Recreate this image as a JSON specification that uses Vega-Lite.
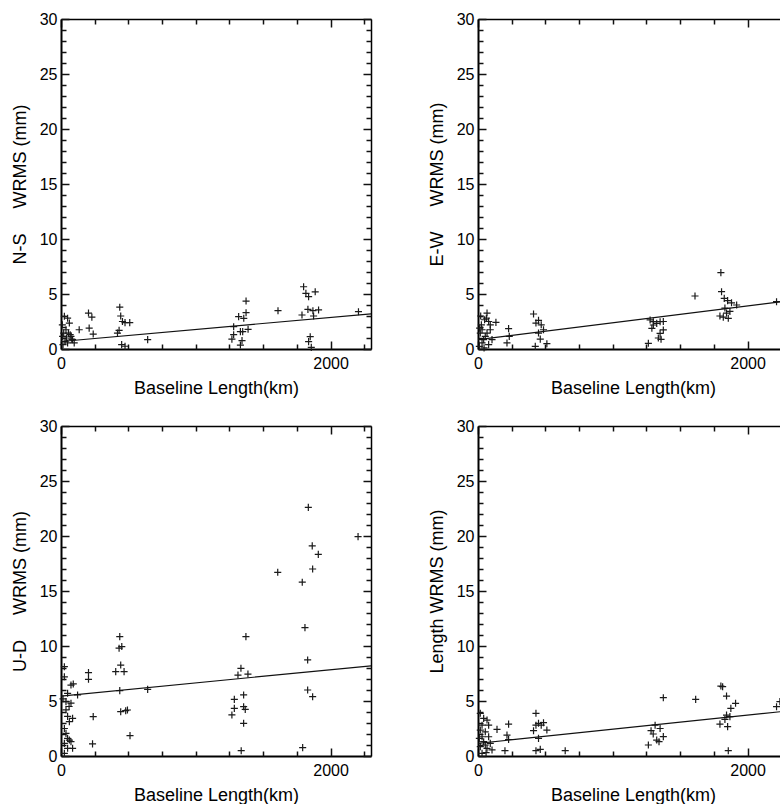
{
"$schema":"https://vega.github.io/schema/vega-lite/v6.json",
"background":"white",
"padding":{"left":11,"top":11,"right":0,"bottom":0},
"config":{"view":{"stroke":null},"axis":{"grid":false,"domainColor":"black","tickColor":"#111","labelColor":"black","titleColor":"black","labelFont":"Liberation Sans","titleFont":"Liberation Sans","labelFontSize":16,"titleFontSize":18,"titleFontWeight":"normal","tickWidth":1.5,"format":"d"}},
"datasets":{
"pts":[
{"p":"NS","x":25,"y":2.97},{"p":"NS","x":49,"y":2.8},{"p":"NS","x":37,"y":1.75},{"p":"NS","x":20,"y":1.45},{"p":"NS","x":62,"y":2.36},{"p":"NS","x":74,"y":1.15},{"p":"NS","x":86,"y":0.85},{"p":"NS","x":49,"y":0.55},{"p":"NS","x":98,"y":0.55},{"p":"NS","x":12,"y":1.15},{"p":"NS","x":30,"y":0.7},{"p":"NS","x":55,"y":1.45},{"p":"NS","x":10,"y":2.2},{"p":"NS","x":40,"y":1.0},{"p":"NS","x":68,"y":1.3},{"p":"NS","x":15,"y":0.4},{"p":"NS","x":80,"y":0.9},
{"p":"NS","x":135,"y":1.75},{"p":"NS","x":204,"y":3.27},{"p":"NS","x":229,"y":2.9},{"p":"NS","x":209,"y":1.9},{"p":"NS","x":239,"y":1.36},
{"p":"NS","x":436,"y":3.8},{"p":"NS","x":443,"y":3.0},{"p":"NS","x":456,"y":2.5},{"p":"NS","x":475,"y":2.4},{"p":"NS","x":510,"y":2.4},{"p":"NS","x":419,"y":1.45},{"p":"NS","x":431,"y":1.7},{"p":"NS","x":450,"y":0.4},{"p":"NS","x":475,"y":0.25},
{"p":"NS","x":643,"y":0.85},
{"p":"NS","x":1268,"y":0.9},{"p":"NS","x":1281,"y":1.3},{"p":"NS","x":1281,"y":2.03},{"p":"NS","x":1318,"y":2.94},{"p":"NS","x":1356,"y":2.79},{"p":"NS","x":1373,"y":4.36},{"p":"NS","x":1373,"y":3.3},{"p":"NS","x":1331,"y":1.58},{"p":"NS","x":1348,"y":1.58},{"p":"NS","x":1388,"y":1.79},{"p":"NS","x":1343,"y":0.76},{"p":"NS","x":1331,"y":0.36},
{"p":"NS","x":1610,"y":3.48},
{"p":"NS","x":1800,"y":5.66},{"p":"NS","x":1817,"y":5.06},{"p":"NS","x":1837,"y":4.76},{"p":"NS","x":1886,"y":5.2},{"p":"NS","x":1788,"y":3.09},{"p":"NS","x":1832,"y":3.6},{"p":"NS","x":1869,"y":3.48},{"p":"NS","x":1911,"y":3.55},{"p":"NS","x":1874,"y":3.0},{"p":"NS","x":1849,"y":1.12},{"p":"NS","x":1837,"y":0.67},{"p":"NS","x":1857,"y":0.15},
{"p":"NS","x":2207,"y":3.39},
{"p":"EW","x":17,"y":1.45},{"p":"EW","x":30,"y":1.75},{"p":"EW","x":49,"y":2.66},{"p":"EW","x":67,"y":3.27},{"p":"EW","x":79,"y":2.5},{"p":"EW","x":91,"y":2.2},{"p":"EW","x":54,"y":1.15},{"p":"EW","x":30,"y":0.55},{"p":"EW","x":79,"y":0.4},{"p":"EW","x":104,"y":0.85},{"p":"EW","x":42,"y":0.85},{"p":"EW","x":10,"y":0.24},{"p":"EW","x":67,"y":1.45},{"p":"EW","x":91,"y":1.75},{"p":"EW","x":25,"y":2.2},{"p":"EW","x":133,"y":2.42},{"p":"EW","x":62,"y":2.8},{"p":"EW","x":20,"y":3.0},{"p":"EW","x":45,"y":0.1},{"p":"EW","x":12,"y":1.9},
{"p":"EW","x":227,"y":1.85},{"p":"EW","x":215,"y":0.55},{"p":"EW","x":232,"y":1.15},
{"p":"EW","x":412,"y":3.18},{"p":"EW","x":449,"y":2.6},{"p":"EW","x":430,"y":2.36},{"p":"EW","x":469,"y":2.2},{"p":"EW","x":486,"y":1.75},{"p":"EW","x":449,"y":1.45},{"p":"EW","x":462,"y":0.9},{"p":"EW","x":425,"y":0.24},{"p":"EW","x":511,"y":0.48},
{"p":"EW","x":1264,"y":0.52},{"p":"EW","x":1277,"y":2.64},{"p":"EW","x":1301,"y":2.48},{"p":"EW","x":1301,"y":2.18},{"p":"EW","x":1326,"y":2.33},{"p":"EW","x":1351,"y":2.48},{"p":"EW","x":1375,"y":1.73},{"p":"EW","x":1351,"y":1.42},{"p":"EW","x":1358,"y":0.88},{"p":"EW","x":1290,"y":1.88},{"p":"EW","x":1375,"y":2.5},{"p":"EW","x":1338,"y":1.0},
{"p":"EW","x":1610,"y":4.82},
{"p":"EW","x":1802,"y":6.94},{"p":"EW","x":1807,"y":5.21},{"p":"EW","x":1827,"y":4.6},{"p":"EW","x":1852,"y":4.4},{"p":"EW","x":1881,"y":4.2},{"p":"EW","x":1919,"y":4.0},{"p":"EW","x":1795,"y":3.0},{"p":"EW","x":1820,"y":2.9},{"p":"EW","x":1857,"y":2.79},{"p":"EW","x":1844,"y":3.27},{"p":"EW","x":1832,"y":3.72},{"p":"EW","x":1869,"y":3.42},
{"p":"EW","x":2215,"y":4.3},
{"p":"UD","x":25,"y":8.12},{"p":"UD","x":25,"y":7.2},{"p":"UD","x":37,"y":4.94},{"p":"UD","x":49,"y":5.7},{"p":"UD","x":74,"y":6.45},{"p":"UD","x":91,"y":6.55},{"p":"UD","x":74,"y":4.8},{"p":"UD","x":37,"y":4.2},{"p":"UD","x":49,"y":3.6},{"p":"UD","x":86,"y":3.42},{"p":"UD","x":62,"y":3.12},{"p":"UD","x":37,"y":2.06},{"p":"UD","x":49,"y":1.6},{"p":"UD","x":74,"y":1.3},{"p":"UD","x":25,"y":1.15},{"p":"UD","x":49,"y":0.7},{"p":"UD","x":86,"y":0.7},{"p":"UD","x":25,"y":0.24},{"p":"UD","x":62,"y":1.45},{"p":"UD","x":25,"y":2.5},{"p":"UD","x":15,"y":5.2},{"p":"UD","x":60,"y":4.5},
{"p":"UD","x":123,"y":5.55},{"p":"UD","x":204,"y":7.58},{"p":"UD","x":204,"y":6.97},{"p":"UD","x":239,"y":3.58},{"p":"UD","x":234,"y":1.1},
{"p":"UD","x":406,"y":7.67},{"p":"UD","x":436,"y":10.85},{"p":"UD","x":431,"y":9.8},{"p":"UD","x":451,"y":9.95},{"p":"UD","x":443,"y":8.27},{"p":"UD","x":468,"y":7.67},{"p":"UD","x":436,"y":5.94},{"p":"UD","x":443,"y":4.03},{"p":"UD","x":480,"y":4.12},{"p":"UD","x":493,"y":4.18},{"p":"UD","x":512,"y":1.85},
{"p":"UD","x":643,"y":6.06},
{"p":"UD","x":1268,"y":3.73},{"p":"UD","x":1286,"y":5.15},{"p":"UD","x":1286,"y":4.33},{"p":"UD","x":1335,"y":7.97},{"p":"UD","x":1313,"y":7.36},{"p":"UD","x":1355,"y":5.55},{"p":"UD","x":1355,"y":4.48},{"p":"UD","x":1367,"y":4.24},{"p":"UD","x":1355,"y":2.97},{"p":"UD","x":1372,"y":10.85},{"p":"UD","x":1387,"y":7.45},{"p":"UD","x":1337,"y":0.48},
{"p":"UD","x":1608,"y":16.7},
{"p":"UD","x":1790,"y":15.8},{"p":"UD","x":1810,"y":11.67},{"p":"UD","x":1830,"y":8.73},{"p":"UD","x":1830,"y":6.0},{"p":"UD","x":1867,"y":5.39},{"p":"UD","x":1793,"y":0.76},{"p":"UD","x":1835,"y":22.6},{"p":"UD","x":1864,"y":19.1},{"p":"UD","x":1909,"y":18.33},{"p":"UD","x":1867,"y":17.0},
{"p":"UD","x":2204,"y":19.94},
{"p":"LN","x":17,"y":3.88},{"p":"LN","x":42,"y":3.42},{"p":"LN","x":67,"y":3.27},{"p":"LN","x":30,"y":2.8},{"p":"LN","x":79,"y":2.8},{"p":"LN","x":17,"y":2.36},{"p":"LN","x":54,"y":2.2},{"p":"LN","x":30,"y":1.75},{"p":"LN","x":79,"y":1.75},{"p":"LN","x":42,"y":1.3},{"p":"LN","x":91,"y":1.15},{"p":"LN","x":17,"y":0.85},{"p":"LN","x":67,"y":0.7},{"p":"LN","x":30,"y":0.24},{"p":"LN","x":104,"y":0.55},{"p":"LN","x":54,"y":1.0},{"p":"LN","x":10,"y":1.6},{"p":"LN","x":60,"y":0.3},
{"p":"LN","x":141,"y":2.42},{"p":"LN","x":215,"y":1.9},{"p":"LN","x":227,"y":2.9},{"p":"LN","x":200,"y":0.48},{"p":"LN","x":227,"y":1.5},
{"p":"LN","x":430,"y":3.88},{"p":"LN","x":412,"y":2.3},{"p":"LN","x":430,"y":2.8},{"p":"LN","x":449,"y":2.97},{"p":"LN","x":469,"y":2.8},{"p":"LN","x":486,"y":3.03},{"p":"LN","x":511,"y":2.36},{"p":"LN","x":449,"y":1.6},{"p":"LN","x":430,"y":0.48},{"p":"LN","x":462,"y":0.6},{"p":"LN","x":647,"y":0.48},
{"p":"LN","x":1264,"y":1.0},{"p":"LN","x":1284,"y":2.3},{"p":"LN","x":1314,"y":2.8},{"p":"LN","x":1326,"y":1.45},{"p":"LN","x":1343,"y":1.3},{"p":"LN","x":1375,"y":5.3},{"p":"LN","x":1351,"y":2.5},{"p":"LN","x":1375,"y":1.76},{"p":"LN","x":1300,"y":2.0},
{"p":"LN","x":1615,"y":5.15},
{"p":"LN","x":1802,"y":6.36},{"p":"LN","x":1815,"y":6.3},{"p":"LN","x":1844,"y":5.45},{"p":"LN","x":1876,"y":4.33},{"p":"LN","x":1911,"y":4.79},{"p":"LN","x":1795,"y":2.9},{"p":"LN","x":1832,"y":3.33},{"p":"LN","x":1852,"y":2.67},{"p":"LN","x":1869,"y":3.58},{"p":"LN","x":1844,"y":3.72},{"p":"LN","x":1857,"y":0.48},
{"p":"LN","x":2215,"y":4.48},{"p":"LN","x":2240,"y":4.94}
],
"fit":[
{"p":"NS","x":0,"y":0.68},{"p":"NS","x":2300,"y":3.2},
{"p":"EW","x":0,"y":0.85},{"p":"EW","x":2300,"y":4.38},
{"p":"UD","x":0,"y":5.45},{"p":"UD","x":2300,"y":8.2},
{"p":"LN","x":0,"y":1.15},{"p":"LN","x":2300,"y":4.1}
]},
"columns":2,
"spacing":{"row":21,"column":54},
"concat":[
{"width":310,"height":330,"resolve":{"axis":{"x":"independent","y":"independent"}},
"layer":[
{"data":{"name":"pts"},"transform":[{"filter":"datum.p==='NS'"}],"mark":{"type":"point","shape":"M-1,0L1,0M0,-1L0,1","size":50,"strokeWidth":1.2,"color":"#1a1a1a","opacity":1,"filled":false},
"encoding":{"x":{"field":"x","type":"quantitative","scale":{"domain":[0,2300],"nice":false},"axis":{"orient":"bottom","values":[0,2000],"ticks":false,"domainWidth":2,"labelPadding":6,"titlePadding":8,"labelFlush":false,"title":"Baseline Length(km)"}},
"y":{"field":"y","type":"quantitative","scale":{"domain":[0,30],"nice":false},"axis":{"orient":"left","values":[0,5,10,15,20,25,30],"ticks":false,"domainWidth":2,"labelPadding":4,"titlePadding":10,"title":"N-S\u00a0\u00a0\u00a0\u00a0 WRMS (mm)"}}}},
{"data":{"name":"fit"},"transform":[{"filter":"datum.p==='NS'"}],"mark":{"type":"line","color":"#111","strokeWidth":1.2},
"encoding":{"x":{"field":"x","type":"quantitative","axis":{"orient":"bottom","values":[0,2000],"offset":-8,"tickSize":8,"labels":false,"domain":false,"title":null}},
"y":{"field":"y","type":"quantitative","axis":{"orient":"left","values":[0,5,10,15,20,25,30],"offset":-8,"tickSize":8,"labels":false,"domain":false,"title":null}}}},
{"data":{"name":"fit"},"transform":[{"filter":"datum.p==='NS'"}],"mark":{"type":"point","opacity":0},
"encoding":{"x":{"field":"x","type":"quantitative","axis":{"orient":"bottom","values":[250,500,750,1000,1250,1500,1750,2250],"offset":-5,"tickSize":5,"labels":false,"domain":false,"title":null}},
"y":{"field":"y","type":"quantitative","axis":{"orient":"left","values":[1,2,3,4,6,7,8,9,11,12,13,14,16,17,18,19,21,22,23,24,26,27,28,29],"offset":-5,"tickSize":5,"labels":false,"domain":false,"title":null}}}},
{"data":{"name":"fit"},"transform":[{"filter":"datum.p==='NS'"}],"mark":{"type":"point","opacity":0},
"encoding":{"x":{"field":"x","type":"quantitative","axis":{"orient":"top","ticks":false,"labels":false,"domainWidth":1.5,"title":null}},
"y":{"field":"y","type":"quantitative","axis":{"orient":"right","ticks":false,"labels":false,"domainWidth":1.5,"title":null}}}},
{"data":{"name":"fit"},"transform":[{"filter":"datum.p==='NS'"}],"mark":{"type":"point","opacity":0},
"encoding":{"x":{"field":"x","type":"quantitative","axis":{"orient":"top","values":[0,2000],"offset":-8,"tickSize":8,"labels":false,"domain":false,"title":null}},
"y":{"field":"y","type":"quantitative","axis":{"orient":"right","values":[0,5,10,15,20,25,30],"offset":-8,"tickSize":8,"labels":false,"domain":false,"title":null}}}},
{"data":{"name":"fit"},"transform":[{"filter":"datum.p==='NS'"}],"mark":{"type":"point","opacity":0},
"encoding":{"x":{"field":"x","type":"quantitative","axis":{"orient":"top","values":[250,500,750,1000,1250,1500,1750,2250],"offset":-5,"tickSize":5,"labels":false,"domain":false,"title":null}},
"y":{"field":"y","type":"quantitative","axis":{"orient":"right","values":[1,2,3,4,6,7,8,9,11,12,13,14,16,17,18,19,21,22,23,24,26,27,28,29],"offset":-5,"tickSize":5,"labels":false,"domain":false,"title":null}}}}
]},
{"width":310,"height":330,"resolve":{"axis":{"x":"independent","y":"independent"}},
"layer":[
{"data":{"name":"pts"},"transform":[{"filter":"datum.p==='EW'"}],"mark":{"type":"point","shape":"M-1,0L1,0M0,-1L0,1","size":50,"strokeWidth":1.2,"color":"#1a1a1a","opacity":1,"filled":false},
"encoding":{"x":{"field":"x","type":"quantitative","scale":{"domain":[0,2300],"nice":false},"axis":{"orient":"bottom","values":[0,2000],"ticks":false,"domainWidth":2,"labelPadding":6,"titlePadding":8,"labelFlush":false,"title":"Baseline Length(km)"}},
"y":{"field":"y","type":"quantitative","scale":{"domain":[0,30],"nice":false},"axis":{"orient":"left","values":[0,5,10,15,20,25,30],"ticks":false,"domainWidth":2,"labelPadding":4,"titlePadding":10,"title":"E-W\u00a0\u00a0\u00a0\u00a0 WRMS (mm)"}}}},
{"data":{"name":"fit"},"transform":[{"filter":"datum.p==='EW'"}],"mark":{"type":"line","color":"#111","strokeWidth":1.2},
"encoding":{"x":{"field":"x","type":"quantitative","axis":{"orient":"bottom","values":[0,2000],"offset":-8,"tickSize":8,"labels":false,"domain":false,"title":null}},
"y":{"field":"y","type":"quantitative","axis":{"orient":"left","values":[0,5,10,15,20,25,30],"offset":-8,"tickSize":8,"labels":false,"domain":false,"title":null}}}},
{"data":{"name":"fit"},"transform":[{"filter":"datum.p==='EW'"}],"mark":{"type":"point","opacity":0},
"encoding":{"x":{"field":"x","type":"quantitative","axis":{"orient":"bottom","values":[250,500,750,1000,1250,1500,1750,2250],"offset":-5,"tickSize":5,"labels":false,"domain":false,"title":null}},
"y":{"field":"y","type":"quantitative","axis":{"orient":"left","values":[1,2,3,4,6,7,8,9,11,12,13,14,16,17,18,19,21,22,23,24,26,27,28,29],"offset":-5,"tickSize":5,"labels":false,"domain":false,"title":null}}}},
{"data":{"name":"fit"},"transform":[{"filter":"datum.p==='EW'"}],"mark":{"type":"point","opacity":0},
"encoding":{"x":{"field":"x","type":"quantitative","axis":{"orient":"top","ticks":false,"labels":false,"domainWidth":1.5,"title":null}},
"y":{"field":"y","type":"quantitative","axis":{"orient":"right","ticks":false,"labels":false,"domainWidth":1.5,"title":null}}}},
{"data":{"name":"fit"},"transform":[{"filter":"datum.p==='EW'"}],"mark":{"type":"point","opacity":0},
"encoding":{"x":{"field":"x","type":"quantitative","axis":{"orient":"top","values":[0,2000],"offset":-8,"tickSize":8,"labels":false,"domain":false,"title":null}},
"y":{"field":"y","type":"quantitative","axis":{"orient":"right","values":[0,5,10,15,20,25,30],"offset":-8,"tickSize":8,"labels":false,"domain":false,"title":null}}}},
{"data":{"name":"fit"},"transform":[{"filter":"datum.p==='EW'"}],"mark":{"type":"point","opacity":0},
"encoding":{"x":{"field":"x","type":"quantitative","axis":{"orient":"top","values":[250,500,750,1000,1250,1500,1750,2250],"offset":-5,"tickSize":5,"labels":false,"domain":false,"title":null}},
"y":{"field":"y","type":"quantitative","axis":{"orient":"right","values":[1,2,3,4,6,7,8,9,11,12,13,14,16,17,18,19,21,22,23,24,26,27,28,29],"offset":-5,"tickSize":5,"labels":false,"domain":false,"title":null}}}}
]},
{"width":310,"height":330,"resolve":{"axis":{"x":"independent","y":"independent"}},
"layer":[
{"data":{"name":"pts"},"transform":[{"filter":"datum.p==='UD'"}],"mark":{"type":"point","shape":"M-1,0L1,0M0,-1L0,1","size":50,"strokeWidth":1.2,"color":"#1a1a1a","opacity":1,"filled":false},
"encoding":{"x":{"field":"x","type":"quantitative","scale":{"domain":[0,2300],"nice":false},"axis":{"orient":"bottom","values":[0,2000],"ticks":false,"domainWidth":2,"labelPadding":6,"titlePadding":8,"labelFlush":false,"title":"Baseline Length(km)"}},
"y":{"field":"y","type":"quantitative","scale":{"domain":[0,30],"nice":false},"axis":{"orient":"left","values":[0,5,10,15,20,25,30],"ticks":false,"domainWidth":2,"labelPadding":4,"titlePadding":10,"title":"U-D\u00a0\u00a0\u00a0\u00a0 WRMS (mm)"}}}},
{"data":{"name":"fit"},"transform":[{"filter":"datum.p==='UD'"}],"mark":{"type":"line","color":"#111","strokeWidth":1.2},
"encoding":{"x":{"field":"x","type":"quantitative","axis":{"orient":"bottom","values":[0,2000],"offset":-8,"tickSize":8,"labels":false,"domain":false,"title":null}},
"y":{"field":"y","type":"quantitative","axis":{"orient":"left","values":[0,5,10,15,20,25,30],"offset":-8,"tickSize":8,"labels":false,"domain":false,"title":null}}}},
{"data":{"name":"fit"},"transform":[{"filter":"datum.p==='UD'"}],"mark":{"type":"point","opacity":0},
"encoding":{"x":{"field":"x","type":"quantitative","axis":{"orient":"bottom","values":[250,500,750,1000,1250,1500,1750,2250],"offset":-5,"tickSize":5,"labels":false,"domain":false,"title":null}},
"y":{"field":"y","type":"quantitative","axis":{"orient":"left","values":[1,2,3,4,6,7,8,9,11,12,13,14,16,17,18,19,21,22,23,24,26,27,28,29],"offset":-5,"tickSize":5,"labels":false,"domain":false,"title":null}}}},
{"data":{"name":"fit"},"transform":[{"filter":"datum.p==='UD'"}],"mark":{"type":"point","opacity":0},
"encoding":{"x":{"field":"x","type":"quantitative","axis":{"orient":"top","ticks":false,"labels":false,"domainWidth":1.5,"title":null}},
"y":{"field":"y","type":"quantitative","axis":{"orient":"right","ticks":false,"labels":false,"domainWidth":1.5,"title":null}}}},
{"data":{"name":"fit"},"transform":[{"filter":"datum.p==='UD'"}],"mark":{"type":"point","opacity":0},
"encoding":{"x":{"field":"x","type":"quantitative","axis":{"orient":"top","values":[0,2000],"offset":-8,"tickSize":8,"labels":false,"domain":false,"title":null}},
"y":{"field":"y","type":"quantitative","axis":{"orient":"right","values":[0,5,10,15,20,25,30],"offset":-8,"tickSize":8,"labels":false,"domain":false,"title":null}}}},
{"data":{"name":"fit"},"transform":[{"filter":"datum.p==='UD'"}],"mark":{"type":"point","opacity":0},
"encoding":{"x":{"field":"x","type":"quantitative","axis":{"orient":"top","values":[250,500,750,1000,1250,1500,1750,2250],"offset":-5,"tickSize":5,"labels":false,"domain":false,"title":null}},
"y":{"field":"y","type":"quantitative","axis":{"orient":"right","values":[1,2,3,4,6,7,8,9,11,12,13,14,16,17,18,19,21,22,23,24,26,27,28,29],"offset":-5,"tickSize":5,"labels":false,"domain":false,"title":null}}}}
]},
{"width":310,"height":330,"resolve":{"axis":{"x":"independent","y":"independent"}},
"layer":[
{"data":{"name":"pts"},"transform":[{"filter":"datum.p==='LN'"}],"mark":{"type":"point","shape":"M-1,0L1,0M0,-1L0,1","size":50,"strokeWidth":1.2,"color":"#1a1a1a","opacity":1,"filled":false},
"encoding":{"x":{"field":"x","type":"quantitative","scale":{"domain":[0,2300],"nice":false},"axis":{"orient":"bottom","values":[0,2000],"ticks":false,"domainWidth":2,"labelPadding":6,"titlePadding":8,"labelFlush":false,"title":"Baseline Length(km)"}},
"y":{"field":"y","type":"quantitative","scale":{"domain":[0,30],"nice":false},"axis":{"orient":"left","values":[0,5,10,15,20,25,30],"ticks":false,"domainWidth":2,"labelPadding":4,"titlePadding":10,"title":"Length WRMS (mm)"}}}},
{"data":{"name":"fit"},"transform":[{"filter":"datum.p==='LN'"}],"mark":{"type":"line","color":"#111","strokeWidth":1.2},
"encoding":{"x":{"field":"x","type":"quantitative","axis":{"orient":"bottom","values":[0,2000],"offset":-8,"tickSize":8,"labels":false,"domain":false,"title":null}},
"y":{"field":"y","type":"quantitative","axis":{"orient":"left","values":[0,5,10,15,20,25,30],"offset":-8,"tickSize":8,"labels":false,"domain":false,"title":null}}}},
{"data":{"name":"fit"},"transform":[{"filter":"datum.p==='LN'"}],"mark":{"type":"point","opacity":0},
"encoding":{"x":{"field":"x","type":"quantitative","axis":{"orient":"bottom","values":[250,500,750,1000,1250,1500,1750,2250],"offset":-5,"tickSize":5,"labels":false,"domain":false,"title":null}},
"y":{"field":"y","type":"quantitative","axis":{"orient":"left","values":[1,2,3,4,6,7,8,9,11,12,13,14,16,17,18,19,21,22,23,24,26,27,28,29],"offset":-5,"tickSize":5,"labels":false,"domain":false,"title":null}}}},
{"data":{"name":"fit"},"transform":[{"filter":"datum.p==='LN'"}],"mark":{"type":"point","opacity":0},
"encoding":{"x":{"field":"x","type":"quantitative","axis":{"orient":"top","ticks":false,"labels":false,"domainWidth":1.5,"title":null}},
"y":{"field":"y","type":"quantitative","axis":{"orient":"right","ticks":false,"labels":false,"domainWidth":1.5,"title":null}}}},
{"data":{"name":"fit"},"transform":[{"filter":"datum.p==='LN'"}],"mark":{"type":"point","opacity":0},
"encoding":{"x":{"field":"x","type":"quantitative","axis":{"orient":"top","values":[0,2000],"offset":-8,"tickSize":8,"labels":false,"domain":false,"title":null}},
"y":{"field":"y","type":"quantitative","axis":{"orient":"right","values":[0,5,10,15,20,25,30],"offset":-8,"tickSize":8,"labels":false,"domain":false,"title":null}}}},
{"data":{"name":"fit"},"transform":[{"filter":"datum.p==='LN'"}],"mark":{"type":"point","opacity":0},
"encoding":{"x":{"field":"x","type":"quantitative","axis":{"orient":"top","values":[250,500,750,1000,1250,1500,1750,2250],"offset":-5,"tickSize":5,"labels":false,"domain":false,"title":null}},
"y":{"field":"y","type":"quantitative","axis":{"orient":"right","values":[1,2,3,4,6,7,8,9,11,12,13,14,16,17,18,19,21,22,23,24,26,27,28,29],"offset":-5,"tickSize":5,"labels":false,"domain":false,"title":null}}}}
]}
]
}
